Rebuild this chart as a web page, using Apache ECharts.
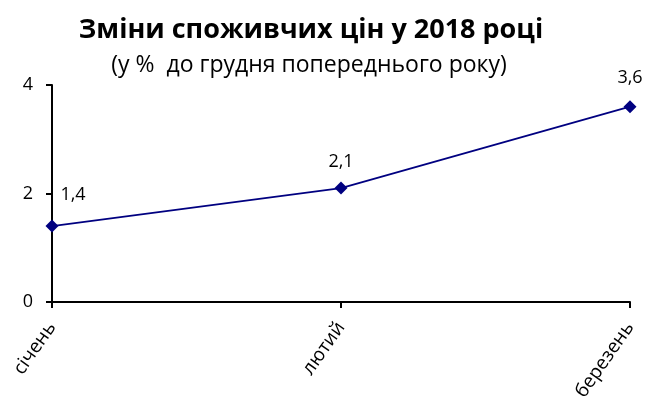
<!DOCTYPE html>
<html>
<head>
<meta charset="utf-8">
<script src="https://cdn.jsdelivr.net/npm/echarts@6/dist/echarts.min.js"></script>
<style>
  html, body { margin: 0; padding: 0; background: #fff; }
  #container { width: 648px; height: 405px; }
</style>
</head>
<body>
<div id="container"></div>
<script>
    var months = ["січень", "лютий", "березень"];
    var values = [1.4, 2.1, 3.6];
    var yTicks = { min: 0, max: 4, step: 2 };
    // зсув підписів значень відносно точки
    var labelShift = [[21, -31], [0, -26], [0, -29]];

    var font = "'Open Sans', 'Noto Sans', sans-serif";

    var points = values.map(function (v, i) {
        return {
            value: v,
            label: { offset: labelShift[i] }
        };
    });

    var myChart = echarts.init(document.getElementById("container"));
    myChart.setOption({
        animation: false,
        title: [
            {
                text: "Зміни споживчих цін у 2018 році",
                left: 306, top: 12, textAlign: 'center',
                textStyle: { fontFamily: font, fontSize: 27, fontWeight: 'bold', color: '#000' }
            },
            {
                text: "(у %  до грудня попереднього року)",
                left: 304, top: 49, textAlign: 'center',
                textStyle: { fontFamily: font, fontSize: 23, fontWeight: 'normal', color: '#000' }
            }
        ],
        grid: { left: 52, right: 18, top: 85, bottom: 103, containLabel: false },
        xAxis: {
            type: 'category',
            data: months,
            boundaryGap: false,
            axisLine: { lineStyle: { color: '#000', width: 2 } },
            axisTick: { show: true, alignWithLabel: true, length: 6, lineStyle: { color: '#000', width: 2 } },
            axisLabel: {
                rotate: 55, margin: 22, color: '#000',
                fontFamily: font, fontSize: 19, interval: 0
            }
        },
        yAxis: {
            type: 'value',
            min: yTicks.min, max: yTicks.max, interval: yTicks.step,
            splitLine: { show: false },
            axisLine: { show: true, lineStyle: { color: '#000', width: 2 } },
            axisTick: { show: true, length: 6, lineStyle: { color: '#000', width: 2 } },
            axisLabel: { color: '#000', fontFamily: font, fontSize: 18, margin: 19 }
        },
        series: [{
            type: 'line',
            data: points,
            symbol: 'diamond',
            symbolSize: 13,
            itemStyle: { color: '#000080' },
            lineStyle: { color: '#000080', width: 1.8 },
            label: {
                show: true,
                position: 'inside',
                color: '#000',
                fontFamily: font,
                fontSize: 18,
                formatter: function (p) { return String(p.value).replace('.', ','); }
            }
        }]
    });
</script>
</body>
</html>
